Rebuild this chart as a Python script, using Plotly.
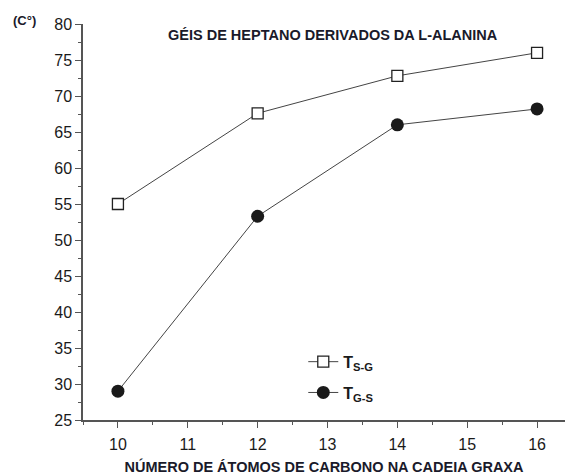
import plotly.graph_objects as go

carbons = [10, 12, 14, 16]
t_sg = [55.0, 67.6, 72.8, 76.0]
t_gs = [29.0, 53.3, 66.0, 68.2]
x_ticks = [10, 11, 12, 13, 14, 15, 16]
y_ticks = [25, 30, 35, 40, 45, 50, 55, 60, 65, 70, 75, 80]

FONT = "Liberation Sans, Arial, sans-serif"
AX = "#555555"
LINE = "#444444"

fig = go.Figure()
fig.add_trace(go.Scatter(
    x=carbons, y=t_sg, mode="lines+markers",
    name="<b>T<sub>S-G</sub></b>", legendgroup="a",
    line=dict(color=LINE, width=1),
    marker=dict(symbol="square", size=11, color="white",
                line=dict(color="#222222", width=1.3)),
))
fig.add_trace(go.Scatter(
    x=carbons, y=t_gs, mode="lines+markers",
    name="<b>T<sub>G-S</sub></b>", legendgroup="b",
    line=dict(color=LINE, width=1),
    marker=dict(symbol="circle", size=13, color="#1a1a1a",
                line=dict(color="#1a1a1a", width=0)),
))

fig.update_layout(
    width=565, height=475,
    margin=dict(l=83, r=0, t=24, b=55),
    paper_bgcolor="white", plot_bgcolor="white",
    font=dict(family=FONT, color="#1a1a1a", size=16),
    showlegend=True,
    legend=dict(x=0.457, y=0.19, xanchor="left", yanchor="top",
                bgcolor="rgba(0,0,0,0)", borderwidth=0,
                font=dict(size=16, family=FONT), tracegroupgap=7),
    xaxis=dict(
        range=[9.5, 16.4], tickmode="array", tickvals=x_ticks,
        ticktext=[str(v) for v in x_ticks],
        showgrid=False, zeroline=False, showline=True,
        linecolor=AX, linewidth=1.5, ticks="outside", ticklen=6,
        tickcolor=AX, tickwidth=1.3, ticklabelstandoff=3,
        tickfont=dict(size=16, family=FONT, color="#1a1a1a"),
        minor=dict(dtick=0.5, ticks="outside", ticklen=3, tickcolor=AX, tickwidth=1.3),
        title=dict(text="<b>NÚMERO DE ÁTOMOS DE CARBONO NA CADEIA GRAXA</b>",
                   font=dict(size=14.5, family=FONT, color="#1a1a2a"), standoff=10),
    ),
    yaxis=dict(
        range=[25, 80], tickmode="array", tickvals=y_ticks,
        ticktext=[str(v) for v in y_ticks],
        showgrid=False, zeroline=False, showline=True,
        linecolor=AX, linewidth=1.5, ticks="outside", ticklen=6,
        tickcolor=AX, tickwidth=1.3,
        tickfont=dict(size=16, family=FONT, color="#1a1a1a"),
        minor=dict(dtick=2.5, ticks="outside", ticklen=3, tickcolor=AX, tickwidth=1.3),
    ),
    annotations=[
        dict(text="<b>GÉIS DE HEPTANO DERIVADOS DA L-ALANINA</b>",
             xref="paper", yref="paper", x=0.519, y=0.972,
             xanchor="center", yanchor="middle", showarrow=False,
             font=dict(size=14.5, family=FONT, color="#1a1a2a")),
        dict(text="<b>(C°)</b>", xref="paper", yref="paper",
             x=-0.122, y=1.008, xanchor="center", yanchor="middle", showarrow=False,
             font=dict(size=13, family=FONT, color="#1a1a2a")),
    ],
)

fig.write_html("out.html")
